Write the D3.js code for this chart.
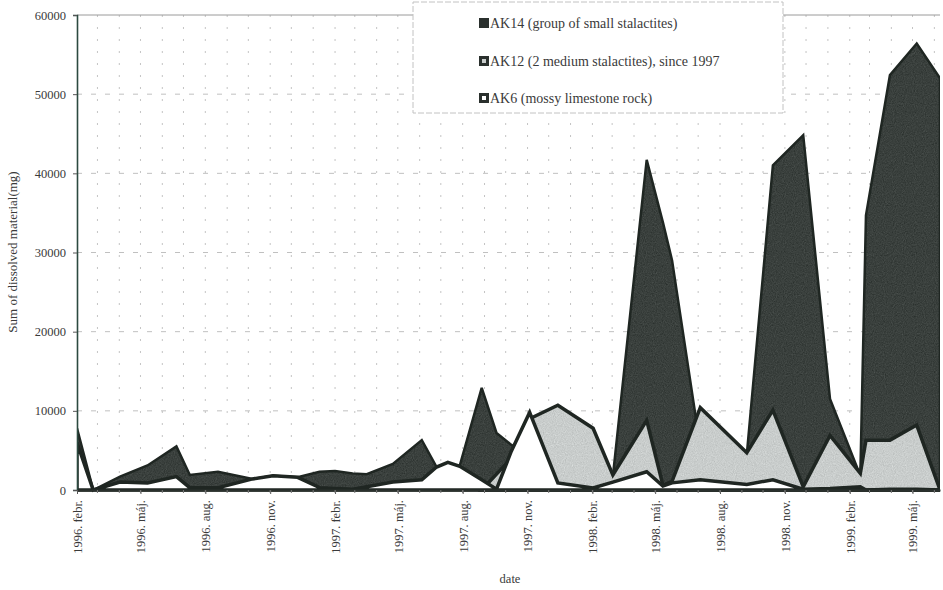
<!DOCTYPE html>
<html>
<head>
<meta charset="utf-8">
<script src="https://cdn.jsdelivr.net/npm/d3@7/dist/d3.min.js"></script>
<style>
  html, body { margin: 0; padding: 0; background: #fff; }
  svg { display: block; }
  text { font-family: "Liberation Serif", "DejaVu Serif", serif; fill: #3a3a3a; }
</style>
</head>
<body>
<svg id="chart" width="943" height="590"></svg>
<script>
// Sampling dates shared by all three drip sites
const sampleDates = [
  "1996-02-01","1996-02-24","1996-04-02","1996-05-11","1996-06-21","1996-07-10",
  "1996-08-19","1996-10-07","1996-11-05","1996-12-10","1997-01-10","1997-02-01",
  "1997-02-26","1997-03-18","1997-04-24","1997-06-04","1997-06-25","1997-07-11",
  "1997-07-28","1997-08-28","1997-09-18","1997-10-09","1997-11-04","1997-12-14",
  "1998-02-02","1998-03-02","1998-04-19","1998-05-12","1998-05-25","1998-07-04",
  "1998-09-08","1998-10-15","1998-11-27","1999-01-04","1999-02-16","1999-02-24",
  "1999-03-30","1999-05-07","1999-06-09"
];

// Sum of dissolved material (mg)
const ak14 = [
  7800, 0, 1700, 3100, 5500, 1900,
  2300, 1400, 1800, 1600, 2300, 2400,
  2100, 2000, 3300, 6300, 2900, 3000,
  3100, 12900, 7200, 5700, 4500, 3000,
  2000, 1700, 41700, 33800, 29000, 5400,
  4500, 41000, 44800, 11500, 1800, 34700,
  52400, 56400, 52000
];
const ak12 = [
  null, null, null, null, null, null,
  null, null, null, null, null, null,
  null, null, null, null, null, null,
  null, 0, 2000, 4000, 9000, 10700,
  7800, 1900, 8800, 600, 1100, 10400,
  4700, 10100, 400, 6900, 2100, 6300,
  6300, 8200, 0
];
const ak6 = [
  6000, 0, 1000, 900, 1700, 300,
  300, 1400, 1800, 1600, 300, 200,
  100, 400, 1000, 1300, 2900, 3500,
  3000, 1300, 100, 4900, 9800, 900,
  250, 1000, 2300, 500, 900, 1300,
  700, 1300, 100, 200, 400, 0,
  100, 100, 0
];

const seriesNames = [
  "AK14 (group of small stalactites)",
  "AK12 (2 medium stalactites), since 1997",
  "AK6 (mossy limestone rock)"
];

const tickDates = [
  "1996-02-01","1996-05-01","1996-08-01","1996-11-01",
  "1997-02-01","1997-05-01","1997-08-01","1997-11-01",
  "1998-02-01","1998-05-01","1998-08-01","1998-11-01",
  "1999-02-01","1999-05-01"
];
const tickLabels = [
  "1996. febr.","1996. máj.","1996. aug.","1996. nov.",
  "1997. febr.","1997. máj.","1997. aug.","1997. nov.",
  "1998. febr.","1998. máj.","1998. aug.","1998. nov.",
  "1999. febr.","1999. máj."
];
const yTicks = [0, 10000, 20000, 30000, 40000, 50000, 60000];

const parse = d3.timeParse("%Y-%m-%d");
const dates = sampleDates.map(parse);
const ticks = tickDates.map(parse);

const svg = d3.select("#chart");
const pLeft = 77, pRight = 940, pTop = 15, pBottom = 490;

const x = d3.scaleTime()
  .domain([parse("1996-02-01"), parse("1999-06-09")])
  .range([pLeft, pRight]);
const y = d3.scaleLinear().domain([0, 60000]).range([pBottom, pTop]);

const defs = svg.append("defs");
defs.append("clipPath").attr("id", "plotClip")
  .append("rect").attr("x", pLeft).attr("y", pTop - 2)
  .attr("width", pRight - pLeft).attr("height", pBottom - pTop + 6);

// fine print grain for the shaded areas
const grain = defs.append("filter").attr("id", "grain")
  .attr("x", 0).attr("y", 0).attr("width", 1).attr("height", 1)
  .attr("color-interpolation-filters", "sRGB");
grain.append("feTurbulence").attr("type", "fractalNoise")
  .attr("baseFrequency", 0.9).attr("numOctaves", 2).attr("seed", 5).attr("result", "noise");
grain.append("feColorMatrix").attr("in", "noise").attr("type", "matrix")
  .attr("values", "0.33 0.33 0.33 0 0  0.33 0.33 0.33 0 0  0.33 0.33 0.33 0 0  0 0 0 0 1")
  .attr("result", "gray");
grain.append("feComposite").attr("in", "SourceGraphic").attr("in2", "gray")
  .attr("operator", "arithmetic").attr("k1", 0).attr("k2", 1).attr("k3", 0.28).attr("k4", -0.14)
  .attr("result", "mix");
grain.append("feComposite").attr("in", "mix").attr("in2", "SourceAlpha").attr("operator", "in");

// faint dotted gridlines: monthly verticals, 10000 mg horizontals
const months = d3.timeMonth.range(parse("1996-03-01"), parse("1999-06-09"));
svg.append("g").selectAll("line").data(months).join("line")
  .attr("x1", d => x(d)).attr("x2", d => x(d))
  .attr("y1", pTop).attr("y2", pBottom)
  .attr("stroke", "#c4c4c4").attr("stroke-width", 1)
  .attr("stroke-dasharray", "2 10");
svg.append("g").selectAll("line").data(yTicks.slice(1, -1)).join("line")
  .attr("x1", pLeft).attr("x2", pRight)
  .attr("y1", d => y(d)).attr("y2", d => y(d))
  .attr("stroke", "#c0c0c0").attr("stroke-width", 1)
  .attr("stroke-dasharray", "5 9");

// plot frame top
svg.append("line").attr("x1", pLeft).attr("x2", pRight).attr("y1", pTop).attr("y2", pTop)
  .attr("stroke", "#9a9a9a").attr("stroke-width", 1);

const plot = svg.append("g").attr("clip-path", "url(#plotClip)");

function drawArea(values, fill, strokeW, textured) {
  const pts = dates.map((d, i) => ({ d, v: values[i] })).filter(p => p.v !== null);
  const area = d3.area()
    .x(p => x(p.d))
    .y0(y(0))
    .y1(p => y(p.v));
  const shape = plot.append("path")
    .datum(pts)
    .attr("d", area)
    .attr("fill", fill);
  if (textured) shape.attr("filter", "url(#grain)");
  plot.append("path")
    .datum(pts)
    .attr("d", area)
    .attr("fill", "none")
    .attr("stroke", "#1f2622")
    .attr("stroke-width", strokeW)
    .attr("stroke-linejoin", "miter")
    .attr("stroke-miterlimit", 3);
}

drawArea(ak14, "#3a403d", 2.5, true);
drawArea(ak12, "#c9cdcc", 3.5, true);
drawArea(ak6, "#ffffff", 3.5, false);

// y axis
const yAxis = svg.append("g").attr("transform", `translate(${pLeft},0)`)
  .call(d3.axisLeft(y).tickValues(yTicks).tickFormat(d3.format("d")).tickSize(4).tickPadding(7));
yAxis.select(".domain").attr("stroke", "#2c4a40").attr("stroke-width", 1.6);
yAxis.selectAll(".tick line").attr("stroke", "#555");
yAxis.selectAll("text").attr("font-size", 12.5).attr("fill", "#3a3a3a")
  .style("font-family", '"Liberation Serif", serif');

// x axis
const xAxis = svg.append("g").attr("transform", `translate(0,${pBottom})`)
  .call(d3.axisBottom(x).tickValues(ticks)
    .tickFormat((d, i) => tickLabels[i]).tickSize(4).tickSizeOuter(0));
xAxis.select(".domain").attr("stroke", "#2a302d").attr("stroke-width", 2.2);
xAxis.selectAll(".tick line").attr("stroke", "#555");
xAxis.selectAll("text")
  .attr("transform", "rotate(-90)")
  .attr("x", -10).attr("y", 0).attr("dy", "0.35em")
  .attr("text-anchor", "end")
  .attr("font-size", 12.5).attr("fill", "#3a3a3a")
  .style("font-family", '"Liberation Serif", serif');

// small monthly ticks along the baseline
svg.append("g").selectAll("line").data(months).join("line")
  .attr("x1", d => x(d)).attr("x2", d => x(d))
  .attr("y1", pBottom).attr("y2", pBottom + 3)
  .attr("stroke", "#777").attr("stroke-width", 1);

// axis titles
svg.append("text")
  .attr("transform", "translate(17,252) rotate(-90)")
  .attr("text-anchor", "middle")
  .attr("font-size", 13)
  .text("Sum of dissolved material(mg)");
svg.append("text")
  .attr("x", 510).attr("y", 583)
  .attr("text-anchor", "middle")
  .attr("font-size", 12.5)
  .text("date");

// legend
const legend = svg.append("g");
legend.append("rect")
  .attr("x", 413).attr("y", 2).attr("width", 370).attr("height", 111)
  .attr("fill", "#fff").attr("stroke", "#c2c2c2").attr("stroke-width", 1)
  .attr("stroke-dasharray", "6 2");
const markerInner = ["#3a403d", "#c9cdcc", "#ffffff"];
const legendY = [23, 61, 98];
seriesNames.forEach((name, i) => {
  const g = legend.append("g").attr("transform", `translate(479,${legendY[i]})`);
  g.append("rect").attr("x", 0).attr("y", -5).attr("width", 10).attr("height", 10)
    .attr("fill", "#2a302d");
  if (i > 0) {
    g.append("rect").attr("x", 3).attr("y", -2).attr("width", 4).attr("height", 4)
      .attr("fill", markerInner[i]);
  }
  g.append("text").attr("x", 11).attr("y", 0).attr("dy", "0.35em")
    .attr("font-size", 14).text(name);
});
</script>
</body>
</html>
